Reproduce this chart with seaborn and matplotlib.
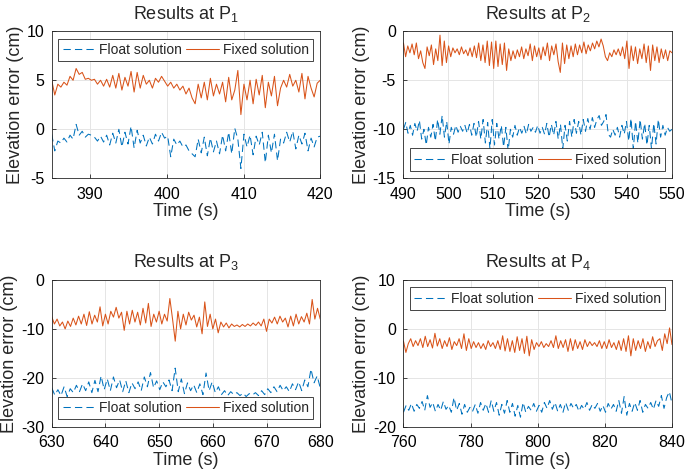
import matplotlib
matplotlib.use("Agg")
import matplotlib.pyplot as plt
import numpy as np
import seaborn as sns

p1_range = (385, 420)
p1_float = [-0.5, -2.2, -1.2, -1.4, -0.9, -1.3, -0.6, -1.0, 0.5, -0.6, -0.2, -0.8, -0.5, -0.6, -0.8,
            -1.2, -0.7, -1.3, -0.6, -1.6, -0.4, -1.4, 0.0, -1.8, -0.3, -1.5, 0.3, -1.9, -0.1, -1.4,
            -0.6, -1.7, -0.8, -1.5, -0.5, -1.2, -0.3, -0.9, -0.7, -2.8, -1.0, -1.6, -1.2, -1.8, -1.6,
            -2.2, -2.5, -2.8, -1.0, -2.4, -0.8, -2.7, -0.9, -2.3, -1.2, -2.5, -0.6, -2.2, -0.3, -2.5,
            0.1, -1.0, -4.0, -0.5, -1.8, -0.6, -2.6, -0.7, -1.6, -0.3, -3.4, -0.6, -2.4, -0.5, -3.2,
            -1.0, -1.4, -0.3, -1.3, -0.2, -2.0, -0.6, -1.5, -0.4, -2.2, -0.9, -1.8, -0.8, -0.7]
p1_fixed = [5.0, 3.5, 4.6, 4.3, 4.8, 4.5, 5.4, 5.0, 6.2, 5.6, 5.8, 5.1, 5.2, 5.0, 5.1, 4.6, 5.0,
            4.4, 5.1, 4.3, 5.5, 4.2, 5.7, 4.0, 5.3, 4.4, 5.9, 3.8, 5.8, 4.2, 5.5, 4.6, 5.0, 4.2,
            5.2, 4.8, 5.4, 4.9, 4.4, 4.8, 4.2, 4.6, 4.0, 4.4, 3.6, 4.2, 3.2, 2.6, 4.6, 3.2, 4.8,
            3.0, 5.2, 3.4, 4.6, 3.6, 4.8, 2.8, 5.3, 3.0, 4.0, 6.0, 1.5, 4.6, 3.0, 5.0, 2.6, 5.1,
            3.5, 5.5, 2.2, 4.8, 3.4, 5.4, 2.4, 4.2, 5.0, 4.3, 5.6, 4.4, 5.0, 3.8, 5.7, 3.1, 5.4,
            4.2, 3.3, 4.7, 5.0]

p2_range = (490, 550)
p2_float = [-10.0, -9.3, -10.4, -9.6, -10.6, -9.4, -10.2, -9.1, -11.0, -10.0, -11.6, -9.8, -10.8,
            -9.5, -11.2, -9.0, -10.5, -8.6, -10.8, -9.2, -11.5, -9.8, -10.5, -9.6, -10.3, -9.7,
            -10.2, -9.6, -10.4, -9.5, -10.6, -9.4, -10.8, -9.2, -11.0, -9.0, -11.4, -9.3, -12.0,
            -9.0, -11.6, -9.4, -11.0, -9.6, -11.8, -9.8, -12.2, -10.0, -10.8, -9.6, -10.6, -9.8,
            -10.4, -9.7, -10.5, -9.5, -10.2, -9.8, -10.3, -9.6, -10.4, -9.8, -10.5, -9.4, -10.8,
            -9.5, -10.6, -9.2, -11.0, -9.5, -12.0, -9.6, -11.2, -9.2, -10.8, -9.0, -10.4, -9.2,
            -10.6, -9.0, -10.2, -8.9, -10.0, -8.8, -9.8, -9.0, -8.6, -9.6, -9.2, -8.5, -10.5,
            -10.8, -10.0, -10.6, -9.8, -10.8, -9.6, -10.5, -9.2, -11.2, -8.9, -12.0, -9.2, -11.4,
            -9.0, -11.0, -9.4, -11.6, -9.6, -12.0, -9.4, -11.5, -9.0, -10.8, -9.6, -10.6, -9.8,
            -10.2, -10.0]
p2_fixed = [-1.2, -2.6, -1.5, -2.2, -1.3, -2.4, -1.2, -2.8, -2.0, -3.2, -3.8, -1.6, -2.5, -1.4,
            -3.4, -1.8, -3.0, -0.4, -3.5, -1.0, -3.2, -1.5, -2.6, -1.7, -2.2, -1.8, -2.4, -1.6,
            -2.3, -1.9, -2.5, -1.7, -2.6, -1.5, -2.7, -1.2, -3.0, -1.4, -3.2, -1.0, -3.5, -1.1,
            -3.8, -1.0, -3.6, -1.3, -3.4, -1.2, -4.0, -1.8, -3.0, -2.0, -2.8, -1.9, -2.6, -1.6,
            -2.8, -1.8, -2.5, -1.3, -3.0, -1.5, -2.6, -1.7, -2.9, -1.6, -2.5, -1.2, -3.0, -1.5,
            -2.4, -1.3, -3.1, -4.2, -1.2, -3.3, -1.4, -2.8, -1.5, -2.6, -1.3, -2.4, -1.4, -2.2,
            -1.1, -2.3, -1.4, -2.0, -1.2, -1.8, -1.0, -1.6, -0.8, -1.5, -2.6, -3.0, -2.2, -2.6,
            -1.9, -2.4, -1.8, -2.5, -1.6, -2.8, -1.0, -3.8, -1.5, -3.0, -1.6, -3.3, -1.8, -2.8,
            -1.3, -3.2, -1.5, -4.0, -1.4, -3.0, -1.6, -3.2, -1.8, -2.8, -1.9, -3.0, -2.0, -2.2]

p3_range = (630, 680)
p3_float = [-22.0, -23.5, -22.4, -23.6, -21.8, -23.8, -22.2, -23.0, -21.5, -22.8, -21.2, -22.6,
            -20.8, -23.0, -20.5, -22.8, -19.6, -22.4, -20.2, -22.6, -19.8, -22.0, -20.4, -22.8,
            -20.6, -23.0, -21.0, -22.2, -20.8, -22.6, -19.8, -21.8, -18.9, -22.0, -20.6, -22.4,
            -20.8, -21.8, -20.4, -22.6, -18.0, -22.8, -20.2, -23.2, -21.0, -22.6, -21.4, -23.0,
            -21.2, -23.4, -19.0, -22.6, -20.8, -23.0, -21.8, -23.4, -22.6, -23.6, -22.8, -23.4,
            -23.0, -23.6, -23.1, -23.8, -23.2, -23.5, -23.0, -23.6, -22.6, -23.4, -22.2, -23.0,
            -21.8, -22.8, -21.5, -22.6, -21.8, -22.8, -21.2, -22.4, -20.8, -22.6, -20.4, -21.8,
            -18.2, -21.0, -19.6, -22.0]
p3_fixed = [-7.5, -9.0, -8.0, -9.4, -8.6, -10.0, -8.4, -9.5, -7.8, -9.2, -7.4, -9.0, -7.0, -9.3,
            -6.5, -9.0, -7.2, -8.6, -5.5, -9.4, -7.0, -9.0, -6.4, -7.6, -5.6, -7.8, -6.6, -10.3,
            -6.4, -9.0, -6.2, -8.6, -6.6, -9.2, -5.8, -8.8, -4.8, -9.5, -7.0, -8.6, -6.4, -9.0,
            -7.0, -8.4, -3.8, -8.0, -12.5, -6.4, -10.0, -7.0, -9.2, -6.6, -8.2, -7.2, -9.6, -7.6,
            -11.0, -4.5, -9.5, -7.0, -10.0, -8.0, -10.8, -8.6, -9.6, -8.8, -9.8, -9.0, -9.5,
            -9.2, -9.6, -9.1, -9.5, -9.0, -9.4, -8.8, -9.3, -8.6, -9.4, -8.0, -10.5, -8.0, -8.8,
            -7.6, -9.0, -7.4, -8.6, -7.8, -9.6, -7.4, -9.4, -7.0, -9.0, -7.5, -8.6, -6.8, -9.0,
            -4.0, -8.0, -5.8, -8.0]

p4_range = (760, 840)
p4_float = [-17.0, -15.6, -16.6, -15.2, -16.8, -15.4, -16.2, -14.8, -16.6, -13.6, -16.0, -15.0,
            -16.8, -15.4, -16.6, -14.8, -16.4, -15.6, -17.0, -14.0, -16.6, -15.2, -17.4, -15.4,
            -17.0, -16.0, -16.8, -15.4, -17.2, -15.0, -16.6, -15.2, -17.0, -14.6, -16.8, -15.0,
            -17.6, -15.4, -17.2, -14.6, -17.0, -15.2, -17.8, -15.6, -18.0, -15.0, -17.0, -15.8,
            -16.6, -15.2, -16.8, -15.6, -17.0, -15.0, -16.2, -14.6, -16.4, -15.0, -16.8, -15.4,
            -17.0, -15.0, -16.6, -15.2, -16.2, -15.4, -16.8, -15.6, -16.4, -15.0, -16.6, -15.4,
            -16.2, -15.2, -16.8, -15.6, -17.0, -15.2, -16.4, -15.4, -16.8, -14.6, -17.2, -13.8,
            -17.6, -15.2, -16.8, -15.0, -16.6, -14.6, -17.0, -15.4, -16.2, -15.0, -16.4, -14.6,
            -15.8, -13.6, -16.2, -14.0, -12.8, -15.2]
p4_fixed = [-2.5, -4.8, -3.0, -2.0, -3.6, -2.4, -3.4, -2.0, -3.8, -1.5, -3.6, -2.2, -3.9, -0.9,
            -3.5, -2.0, -4.0, -2.4, -3.6, -1.8, -4.2, -2.6, -3.4, -2.0, -4.0, -1.0, -4.4, -2.0,
            -4.0, -2.6, -3.8, -2.8, -4.0, -3.0, -4.2, -2.4, -3.6, -2.8, -4.0, -2.4, -4.2, -1.4,
            -4.5, -2.0, -4.6, -2.4, -4.8, -1.6, -4.4, -2.0, -5.0, -1.5, -5.5, -2.2, -4.2, -2.8,
            -3.6, -2.6, -3.8, -3.0, -3.6, -2.4, -3.8, -1.4, -4.0, -2.4, -3.8, -2.2, -4.6, -2.0,
            -4.4, -2.2, -4.0, -2.6, -4.2, -2.2, -3.6, -2.6, -3.4, -2.8, -3.6, -2.4, -4.0, -2.6,
            -4.0, -2.2, -3.8, -2.8, -4.2, -2.4, -4.4, -2.0, -4.6, -1.4, -5.5, -2.0, -4.4, -2.4,
            -4.0, -2.0, -4.6, -2.6, -4.0, -1.6, -3.6, -2.4, -2.0, -4.4, -1.0, -3.0, 0.2, -3.2]

titles = ["Results at P$_1$", "Results at P$_2$", "Results at P$_3$", "Results at P$_4$"]
yticks = [[-5, 0, 5, 10], [-15, -10, -5, 0], [-30, -20, -10, 0], [-20, -10, 0, 10]]
xticks = [range(390, 421, 10), range(490, 551, 10), range(630, 681, 10), range(760, 841, 20)]
legend_loc = ["upper center", "lower center", "lower center", "upper center"]

blue = "#0072BD"
orange = "#D95319"

sns.set_theme(style="whitegrid", rc={
    "axes.edgecolor": "#262626",
    "axes.linewidth": 0.6,
    "grid.color": "#e5e5e5",
    "grid.linewidth": 0.7,
    "xtick.direction": "in",
    "ytick.direction": "in",
    "xtick.major.size": 3,
    "ytick.major.size": 3,
    "xtick.major.width": 0.6,
    "ytick.major.width": 0.6,
    "xtick.bottom": True,
    "ytick.left": True,
    "axes.unicode_minus": False,
})
plt.rcParams["font.family"] = ["Liberation Sans", "DejaVu Sans"]
plt.rcParams["mathtext.fontset"] = "custom"
plt.rcParams["mathtext.rm"] = "Liberation Sans"
plt.rcParams["mathtext.default"] = "regular"

fig, axes = plt.subplots(2, 2, figsize=(6.85, 4.73), dpi=100)
fig.subplots_adjust(left=0.0755, right=0.981, top=0.934, bottom=0.0973, wspace=0.31, hspace=0.69)

panels = [(p1_range, p1_float, p1_fixed), (p2_range, p2_float, p2_fixed),
          (p3_range, p3_float, p3_fixed), (p4_range, p4_float, p4_fixed)]

for i, ax in enumerate(axes.flat):
    (t0, t1), fl, fx = panels[i]
    t_fl = np.linspace(t0, t1, len(fl))
    t_fx = np.linspace(t0, t1, len(fx))
    sns.lineplot(x=t_fl, y=fl, ax=ax, color=blue, lw=0.75, linestyle=(0, (7, 4)),
                 sort=False, estimator=None, label="Float solution")
    sns.lineplot(x=t_fx, y=fx, ax=ax, color=orange, lw=0.75,
                 sort=False, estimator=None, label="Fixed solution")
    ax.set_xlim(t0, t1)
    ax.set_ylim(yticks[i][0], yticks[i][-1])
    ax.set_xticks(list(xticks[i]))
    ax.set_yticks(yticks[i])
    ax.tick_params(labelsize=11.5, colors="#262626", labelcolor="black")
    ax.tick_params(axis="x", pad=6)
    ax.tick_params(axis="y", pad=5.5)
    ax.set_xlabel("Time (s)", fontsize=13, labelpad=1)
    ax.set_ylabel("Elevation error (cm)", fontsize=13, labelpad=2)
    ax.set_title(titles[i], fontsize=13, pad=9)
    for s in ax.spines.values():
        s.set_visible(True)
    leg = ax.legend(loc=legend_loc[i], ncol=2, fontsize=10, frameon=True, fancybox=False,
                    framealpha=1, edgecolor="#262626", handlelength=2.35, handletextpad=0.3,
                    columnspacing=0.3, borderpad=0.3, borderaxespad=0.55)
    leg.get_frame().set_linewidth(0.6)

fig.savefig("out.png", dpi=100)
